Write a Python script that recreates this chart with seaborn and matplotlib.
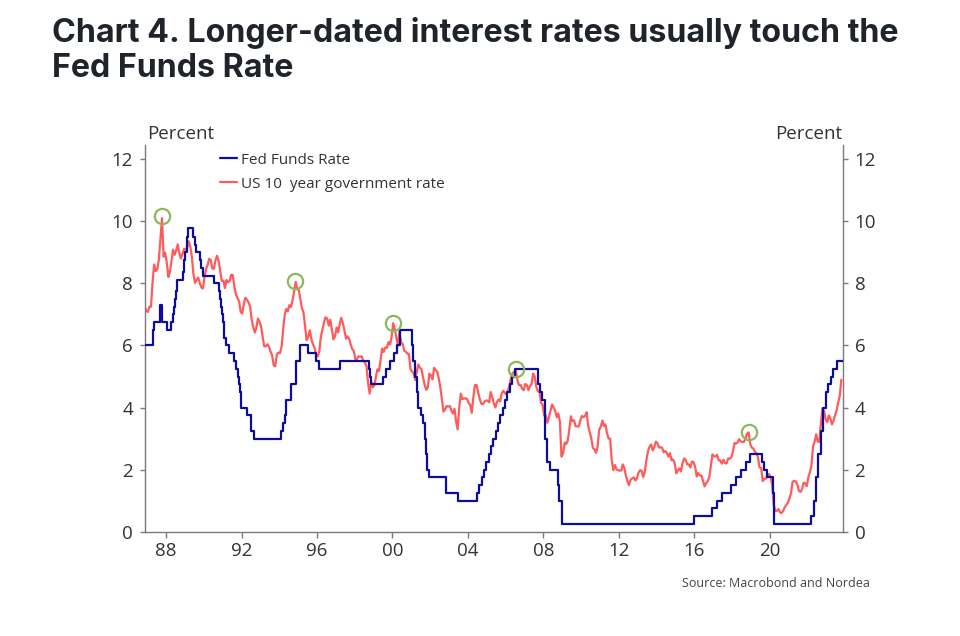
"""
Chart 4: Fed Funds Rate vs US 10 year government rate.
"""

import matplotlib.pyplot as plt
import matplotlib.dates as mdates
import numpy as np
import pandas as pd
import seaborn as sn

# Fed Funds Rate (upper target), change dates and levels
ffr_dates = ['1986-11-14', '1987-04-30', '1987-05-15', '1987-09-04', '1987-10-22', '1988-01-28',
             '1988-03-30', '1988-05-09', '1988-05-25', '1988-06-22', '1988-07-19', '1988-08-08',
             '1988-11-17', '1988-12-15', '1989-01-05', '1989-02-09', '1989-02-14', '1989-02-24',
             '1989-06-06', '1989-07-07', '1989-07-27', '1989-10-18', '1989-11-06', '1989-12-20',
             '1990-07-13', '1990-10-29', '1990-11-13', '1990-12-07', '1990-12-19', '1991-01-09',
             '1991-02-01', '1991-03-08', '1991-04-30', '1991-08-06', '1991-09-13', '1991-10-31',
             '1991-11-06', '1991-12-06', '1991-12-20', '1992-04-09', '1992-07-02', '1992-09-04',
             '1994-02-04', '1994-03-22', '1994-04-18', '1994-05-17', '1994-08-16', '1994-11-15',
             '1995-02-01', '1995-07-06', '1995-12-19', '1996-01-31', '1997-03-25', '1998-09-29',
             '1998-10-15', '1998-11-17', '1999-06-30', '1999-08-24', '1999-11-16', '2000-02-02',
             '2000-03-21', '2000-05-16', '2001-01-03', '2001-01-31', '2001-03-20', '2001-04-18',
             '2001-05-15', '2001-06-27', '2001-08-21', '2001-09-17', '2001-10-02', '2001-11-06',
             '2001-12-11', '2002-11-06', '2003-06-25', '2004-06-30', '2004-08-10', '2004-09-21',
             '2004-11-10', '2004-12-14', '2005-02-02', '2005-03-22', '2005-05-03', '2005-06-30',
             '2005-08-09', '2005-09-20', '2005-11-01', '2005-12-13', '2006-01-31', '2006-03-28',
             '2006-05-10', '2006-06-29', '2007-09-18', '2007-10-31', '2007-12-11', '2008-01-22',
             '2008-01-30', '2008-03-18', '2008-04-30', '2008-10-08', '2008-10-29', '2008-12-16',
             '2015-12-16', '2016-12-14', '2017-03-15', '2017-06-14', '2017-12-13', '2018-03-21',
             '2018-06-13', '2018-09-26', '2018-12-19', '2019-07-31', '2019-09-18', '2019-10-30',
             '2020-03-03', '2020-03-15', '2022-03-16', '2022-05-04', '2022-06-15', '2022-07-27',
             '2022-09-21', '2022-11-02', '2022-12-14', '2023-02-01', '2023-03-22', '2023-05-03',
             '2023-07-26', '2023-11-10']
ffr_levels = [6.0, 6.5, 6.75, 7.3, 6.75, 6.5,
              6.75, 7.0, 7.25, 7.5, 7.75, 8.125,
              8.375, 8.75, 9.0, 9.25, 9.5, 9.8,
              9.5, 9.25, 9.0, 8.75, 8.5, 8.25,
              8.0, 7.75, 7.5, 7.25, 7.0, 6.75,
              6.25, 6.0, 5.75, 5.5, 5.25, 5.0,
              4.75, 4.5, 4.0, 3.75, 3.25, 3.0,
              3.25, 3.5, 3.75, 4.25, 4.75, 5.5,
              6.0, 5.75, 5.5, 5.25, 5.5, 5.25,
              5.0, 4.75, 5.0, 5.25, 5.5, 5.75,
              6.0, 6.5, 6.0, 5.5, 5.0, 4.5,
              4.0, 3.75, 3.5, 3.0, 2.5, 2.0,
              1.75, 1.25, 1.0, 1.25, 1.5, 1.75,
              2.0, 2.25, 2.5, 2.75, 3.0, 3.25,
              3.5, 3.75, 4.0, 4.25, 4.5, 4.75,
              5.0, 5.25, 4.75, 4.5, 4.25, 3.5,
              3.0, 2.25, 2.0, 1.5, 1.0, 0.25,
              0.5, 0.75, 1.0, 1.25, 1.5, 1.75,
              2.0, 2.25, 2.5, 2.25, 2.0, 1.75,
              1.25, 0.25, 0.5, 1.0, 1.75, 2.5,
              3.25, 4.0, 4.5, 4.75, 5.0, 5.25,
              5.5, 5.5]

# US 10 year government rate, monthly from Nov 1986 to Oct 2023
ust10_start = '1986-11-01'
ust10 = [7.25, 7.11,
         7.08, 7.25, 7.25, 8.02, 8.61, 8.40, 8.45, 8.76, 9.42, 10.1, 8.86, 8.99,
         8.67, 8.21, 8.37, 8.72, 9.09, 8.92, 9.06, 9.26, 8.98, 8.80, 8.96, 9.11,
         9.09, 9.17, 9.36, 9.18, 8.86, 8.28, 8.02, 8.11, 8.19, 8.01, 7.87, 7.84,
         8.21, 8.47, 8.59, 8.79, 8.76, 8.48, 8.47, 8.75, 8.89, 8.72, 8.39, 8.08,
         8.09, 7.85, 8.11, 8.04, 8.07, 8.28, 8.27, 7.90, 7.65, 7.53, 7.42, 7.09,
         7.03, 7.34, 7.54, 7.48, 7.39, 7.26, 6.84, 6.59, 6.42, 6.59, 6.87, 6.77,
         6.60, 6.26, 5.98, 5.97, 6.04, 5.96, 5.81, 5.68, 5.36, 5.33, 5.72, 5.77,
         5.75, 5.97, 6.48, 6.97, 7.18, 7.10, 7.30, 7.24, 7.46, 7.74, 8.05, 7.81,
         7.78, 7.47, 7.20, 7.06, 6.63, 6.17, 6.28, 6.49, 6.20, 6.04, 5.93, 5.71,
         5.65, 5.81, 6.27, 6.51, 6.74, 6.91, 6.87, 6.64, 6.83, 6.53, 6.20, 6.30,
         6.58, 6.42, 6.69, 6.89, 6.71, 6.49, 6.22, 6.30, 6.21, 6.03, 5.88, 5.81,
         5.54, 5.57, 5.65, 5.64, 5.65, 5.50, 5.46, 5.34, 4.81, 4.45, 4.83, 4.65,
         4.72, 5.00, 5.23, 5.18, 5.54, 5.90, 5.79, 5.94, 5.92, 6.11, 6.03, 6.28,
         6.72, 6.52, 6.26, 5.99, 6.44, 6.10, 6.05, 5.83, 5.80, 5.74, 5.72, 5.24,
         5.16, 5.10, 4.89, 5.14, 5.39, 5.28, 5.24, 4.97, 4.73, 4.57, 4.65, 5.09,
         5.04, 4.91, 5.28, 5.21, 5.16, 4.93, 4.65, 4.26, 3.87, 3.94, 4.05, 4.03,
         4.05, 3.90, 3.81, 3.96, 3.57, 3.30, 3.98, 4.45, 4.27, 4.29, 4.30, 4.27,
         4.15, 4.08, 3.83, 4.35, 4.72, 4.73, 4.50, 4.28, 4.13, 4.10, 4.19, 4.23,
         4.22, 4.17, 4.50, 4.34, 4.14, 4.00, 4.18, 4.26, 4.20, 4.46, 4.54, 4.47,
         4.42, 4.57, 4.72, 4.99, 5.11, 5.15, 5.20, 4.88, 4.72, 4.73, 4.60, 4.56,
         4.76, 4.72, 4.56, 4.69, 4.75, 5.10, 5.00, 4.67, 4.52, 4.53, 4.15, 4.10,
         3.74, 3.74, 3.51, 3.68, 3.88, 4.10, 4.01, 3.89, 3.69, 3.81, 3.53, 2.42,
         2.52, 2.87, 2.82, 2.93, 3.29, 3.72, 3.56, 3.59, 3.40, 3.39, 3.40, 3.59,
         3.73, 3.69, 3.73, 3.85, 3.42, 3.20, 3.01, 2.70, 2.65, 2.54, 2.76, 3.29,
         3.39, 3.58, 3.41, 3.46, 3.17, 3.00, 3.00, 2.30, 1.98, 2.15, 2.01, 1.98,
         1.97, 1.97, 2.17, 2.05, 1.80, 1.62, 1.50, 1.68, 1.72, 1.75, 1.65, 1.72,
         1.91, 1.98, 1.96, 1.76, 1.93, 2.30, 2.58, 2.74, 2.81, 2.62, 2.72, 2.90,
         2.86, 2.71, 2.72, 2.71, 2.56, 2.60, 2.54, 2.42, 2.53, 2.30, 2.33, 2.21,
         1.88, 1.98, 2.04, 1.94, 2.20, 2.36, 2.32, 2.17, 2.17, 2.07, 2.26, 2.24,
         2.09, 1.78, 1.89, 1.81, 1.81, 1.64, 1.46, 1.56, 1.63, 1.76, 2.14, 2.49,
         2.43, 2.42, 2.48, 2.30, 2.30, 2.19, 2.32, 2.21, 2.20, 2.36, 2.35, 2.40,
         2.58, 2.86, 2.84, 2.87, 2.98, 2.91, 2.89, 2.89, 3.00, 3.15, 3.20, 2.83,
         2.71, 2.68, 2.57, 2.53, 2.40, 2.07, 2.06, 1.63, 1.70, 1.71, 1.81, 1.86,
         1.76, 1.50, 0.87, 0.66, 0.67, 0.73, 0.62, 0.60, 0.68, 0.79, 0.87, 0.93,
         1.08, 1.26, 1.61, 1.64, 1.62, 1.52, 1.32, 1.28, 1.37, 1.58, 1.56, 1.47,
         1.76, 1.93, 2.13, 2.75, 2.90, 3.14, 2.90, 2.90, 3.52, 3.98, 3.89, 3.62,
         3.53, 3.75, 3.66, 3.46, 3.57, 3.75, 3.90, 4.17, 4.38, 4.90]

# peaks in the 10 year rate marked with circles
peak_dates = ['1987-10-15', '1994-11-08', '2000-01-20', '2006-07-15', '2018-11-25']
peak_values = [10.17, 8.07, 6.73, 5.24, 3.21]

x_ticks = ['1988', '1992', '1996', '2000', '2004', '2008', '2012', '2016', '2020']
y_ticks = [0, 2, 4, 6, 8, 10, 12]

BLUE = '#0c0c9e'
RED = '#ff5b5b'
GREEN = '#8db85a'
GREY = '#7a7a7a'
TXT = '#333333'

sn.set_style('white')
plt.rcParams['font.family'] = ['Open Sans', 'DejaVu Sans']

ffr = pd.DataFrame({'date': pd.to_datetime(ffr_dates), 'rate': ffr_levels})
dates10 = pd.date_range(ust10_start, periods=len(ust10), freq='MS') + pd.Timedelta(days=14)
gov = pd.DataFrame({'date': dates10, 'rate': ust10})

fig = plt.figure(figsize=(9.6, 6.36), dpi=100)
ax = fig.add_axes([144.7 / 960, 1 - 531.7 / 636, (842.7 - 144.7) / 960, (531.7 - 145) / 636])

sn.lineplot(data=gov, x='date', y='rate', ax=ax, color=RED, linewidth=1.6,
            label='US 10  year government rate', zorder=2)
sn.lineplot(data=ffr, x='date', y='rate', ax=ax, color=BLUE, linewidth=1.6,
            drawstyle='steps-post', label='Fed Funds Rate', zorder=3)
ax.plot(pd.to_datetime(peak_dates), peak_values, 'o', ms=11, mfc='none', mec=GREEN,
        mew=1.6, zorder=4)

ax.set_xlim(pd.Timestamp('1986-11-14'), pd.Timestamp('2023-11-10'))
ax.set_ylim(0, 12.46)
ax.set_xticks(pd.to_datetime(x_ticks))
ax.xaxis.set_major_formatter(mdates.DateFormatter('%y'))
ax.set_yticks(y_ticks)
ax.set_xlabel('')
ax.set_ylabel('')

for side in ['left', 'right', 'bottom']:
    ax.spines[side].set_visible(True)
    ax.spines[side].set_color(GREY)
    ax.spines[side].set_linewidth(1.0)
ax.spines['top'].set_visible(False)
ax.tick_params(axis='both', which='both', direction='out', color=GREY, width=1.0,
               labelsize=13.5, labelcolor=TXT)
ax.tick_params(axis='y', length=3.5, pad=5, left=True, right=True, labelleft=True, labelright=True)
ax.tick_params(axis='x', length=4.3, pad=3, bottom=True)

handles, labels = ax.get_legend_handles_labels()
ax.legend(handles[::-1], labels[::-1], loc='upper left', bbox_to_anchor=(0.097, 1.0),
          borderaxespad=0.1, frameon=False, fontsize=11, handlelength=1.1,
          handletextpad=0.25, labelspacing=0.6, labelcolor=TXT)

ax.text(0.003, 1.016, 'Percent', transform=ax.transAxes, ha='left', va='baseline',
        fontsize=13.5, color=TXT)
ax.text(1.0, 1.016, 'Percent', transform=ax.transAxes, ha='right', va='baseline',
        fontsize=13.5, color=TXT)

title_kw = dict(ha='left', va='baseline', fontsize=23.2, fontweight='bold', color='#1f232a',
                family=['Inter', 'DejaVu Sans'])
fig.text(52 / 960, 1 - 42 / 636, 'Chart 4. Longer-dated interest rates usually touch the', **title_kw)
fig.text(52 / 960, 1 - 77 / 636, 'Fed Funds Rate', **title_kw)
fig.text(870 / 960, 1 - 587 / 636, 'Source: Macrobond and Nordea', ha='right',
         va='baseline', fontsize=9, color='#444444')

fig.savefig('out.png', dpi=100)
